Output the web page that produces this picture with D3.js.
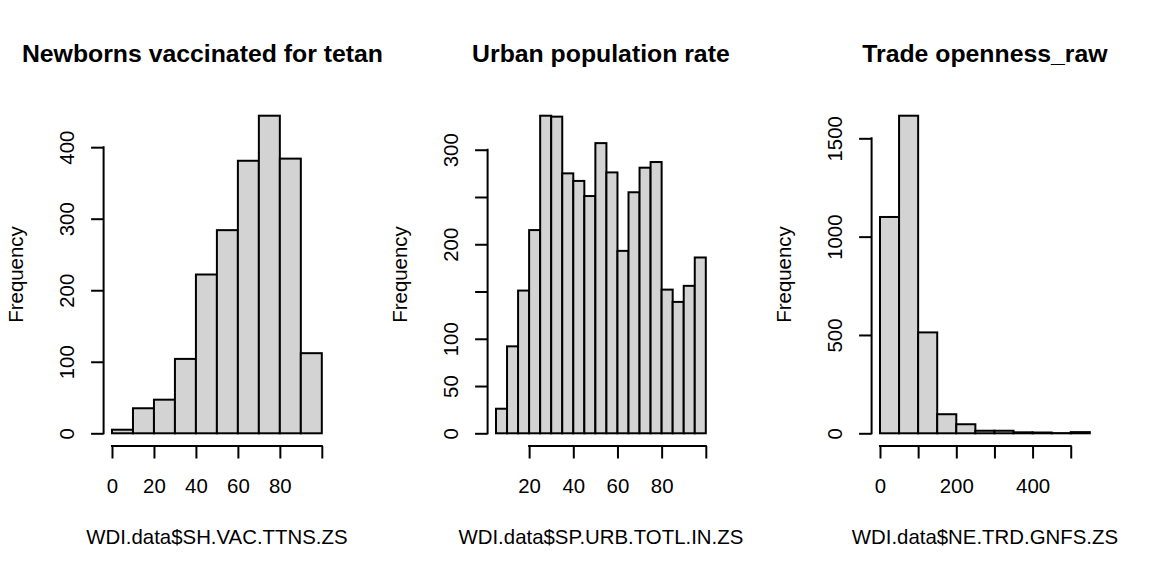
<!DOCTYPE html>
<html lang="en">
<head>
    <meta charset="UTF-8">
    <title>WDI histograms</title>

    <script src="https://d3js.org/d3.v7.min.js"></script>

    <style>
        body {
            margin: 0;
            background: #fff;
        }
        svg text {
            font-family: "Liberation Sans", Arial, sans-serif;
            fill: #000;
        }
        .bar {
            fill: #d3d3d3;
            stroke: #000;
            stroke-width: 2px;
        }
        .axis line, .axis-line {
            stroke: #000;
            stroke-width: 2px;
        }
    </style>
</head>
<body>
<div id="charts"></div>
<script>

    // Newborns vaccinated for tetanus
    var vacBreaks = [0, 10, 20, 30, 40, 50, 60, 70, 80, 90, 100];
    var vacCounts = [5, 35, 47, 104, 222, 284, 381, 444, 384, 112];
    var vacXTicks = [0, 20, 40, 60, 80, 100];
    var vacXLabels = [0, 20, 40, 60, 80];
    var vacYTicks = [0, 100, 200, 300, 400];
    var vacYLabels = [0, 100, 200, 300, 400];

    // Urban population rate
    var urbBreaks = [5, 10, 15, 20, 25, 30, 35, 40, 45, 50, 55, 60, 65, 70, 75, 80, 85, 90, 95, 100];
    var urbCounts = [26, 92, 151, 215, 336, 335, 275, 267, 251, 307, 276, 193, 255, 281, 287, 152, 139, 156, 186];
    var urbXTicks = [20, 40, 60, 80, 100];
    var urbXLabels = [20, 40, 60, 80];
    var urbYTicks = [0, 50, 100, 150, 200, 250, 300];
    var urbYLabels = [0, 50, 100, 200, 300];

    // Trade openness
    var trdBreaks = [0, 50, 100, 150, 200, 250, 300, 350, 400, 450, 500, 550];
    var trdCounts = [1100, 1615, 513, 97, 46, 13, 13, 5, 4, 1, 6];
    var trdXTicks = [0, 100, 200, 300, 400, 500];
    var trdXLabels = [0, 200, 400];
    var trdYTicks = [0, 500, 1000, 1500];
    var trdYLabels = [0, 500, 1000, 1500];

    var panels = [
        {title: "Newborns vaccinated for tetanus", xlab: "WDI.data$SH.VAC.TTNS.ZS",
         breaks: vacBreaks, counts: vacCounts, xTicks: vacXTicks, xLabels: vacXLabels, yTicks: vacYTicks, yLabels: vacYLabels},
        {title: "Urban population rate", xlab: "WDI.data$SP.URB.TOTL.IN.ZS",
         breaks: urbBreaks, counts: urbCounts, xTicks: urbXTicks, xLabels: urbXLabels, yTicks: urbYTicks, yLabels: urbYLabels},
        {title: "Trade openness_raw", xlab: "WDI.data$NE.TRD.GNFS.ZS",
         breaks: trdBreaks, counts: trdCounts, xTicks: trdXTicks, xLabels: trdXLabels, yTicks: trdYTicks, yLabels: trdYLabels}
    ];

    var W = 1152, H = 576, panelW = 384;
    // plot region inside each panel (R's usr box)
    var plot = {left: 103.6, right: 330.2, top: 103, bottom: 446};
    var tickLen = 12.5;

    var svg = d3.select("#charts")
        .append("svg")
        .attr("width", W)
        .attr("height", H);

    panels.forEach(function(p, i) {
        // R clips text to the figure region
        svg.append("clipPath")
            .attr("id", "clip" + i)
            .append("rect")
            .attr("x", 0).attr("y", 0)
            .attr("width", panelW).attr("height", H);

        var g = svg.append("g")
            .attr("transform", "translate(" + (i * panelW) + ",0)")
            .attr("clip-path", "url(#clip" + i + ")");

        // scales with R's 4% extension
        var b0 = p.breaks[0], b1 = p.breaks[p.breaks.length - 1];
        var pad = (b1 - b0) * 0.04;
        var x = d3.scaleLinear().domain([b0 - pad, b1 + pad]).range([plot.left, plot.right]);
        var ymax = d3.max(p.counts);
        var y = d3.scaleLinear().domain([-ymax * 0.04, ymax * 1.04]).range([plot.bottom, plot.top]);

        // bars
        g.selectAll(".bar")
            .data(p.counts)
            .enter().append("rect")
            .attr("class", "bar")
            .attr("x", function(d, j) { return x(p.breaks[j]); })
            .attr("width", function(d, j) { return x(p.breaks[j + 1]) - x(p.breaks[j]); })
            .attr("y", function(d) { return y(d); })
            .attr("height", function(d) { return y(0) - y(d); });

        // x axis
        var xAxis = d3.axisBottom(x)
            .tickValues(p.xTicks)
            .tickSize(tickLen)
            .tickFormat(function(d) { return p.xLabels.indexOf(d) >= 0 ? d : ""; });
        var gx = g.append("g")
            .attr("class", "axis")
            .attr("transform", "translate(0," + plot.bottom + ")")
            .call(xAxis);
        gx.select(".domain").remove();
        gx.selectAll("text")
            .attr("y", 46.7)
            .attr("dy", 0)
            .style("font-size", "20.4px")
            .style("font-family", null);
        gx.append("line")
            .attr("class", "axis-line")
            .attr("x1", x(p.xTicks[0]))
            .attr("x2", x(p.xTicks[p.xTicks.length - 1]))
            .attr("y1", 0).attr("y2", 0)
            .style("stroke-linecap", "square");

        // y axis
        var yAxis = d3.axisLeft(y)
            .tickValues(p.yTicks)
            .tickSize(tickLen)
            .tickFormat(function(d) { return p.yLabels.indexOf(d) >= 0 ? d : ""; });
        var gy = g.append("g")
            .attr("class", "axis")
            .attr("transform", "translate(" + plot.left + ",0)")
            .call(yAxis);
        gy.select(".domain").remove();
        gy.selectAll("text")
            .attr("x", 0)
            .attr("y", -29.3)
            .attr("dy", 0)
            .attr("transform", "rotate(-90)")
            .attr("text-anchor", "middle")
            .style("font-size", "20.4px")
            .style("font-family", null);
        gy.append("line")
            .attr("class", "axis-line")
            .attr("x1", 0).attr("x2", 0)
            .attr("y1", y(p.yTicks[0]))
            .attr("y2", y(p.yTicks[p.yTicks.length - 1]))
            .style("stroke-linecap", "square");

        var cx = (plot.left + plot.right) / 2;

        // title
        g.append("text")
            .attr("x", cx)
            .attr("y", 61.7)
            .attr("text-anchor", "middle")
            .style("font-size", "24.8px")
            .style("font-weight", "bold")
            .text(p.title);

        // x label
        g.append("text")
            .attr("x", cx)
            .attr("y", 544)
            .attr("text-anchor", "middle")
            .style("font-size", "20.4px")
            .text(p.xlab);

        // y label
        g.append("text")
            .attr("transform", "translate(22.7," + ((plot.top + plot.bottom) / 2) + ") rotate(-90)")
            .attr("text-anchor", "middle")
            .style("font-size", "20.4px")
            .text("Frequency");
    });
</script>

</body>
</html>
